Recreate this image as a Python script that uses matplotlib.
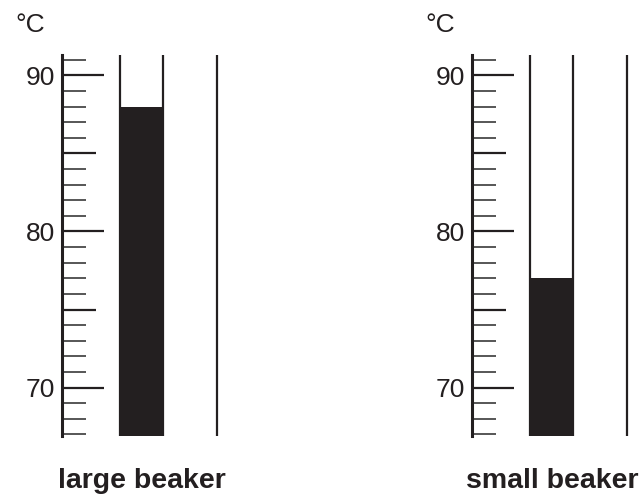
import matplotlib
matplotlib.use("Agg")
import matplotlib.pyplot as plt
import numpy as np

plt.rcParams['font.family'] = ['Liberation Sans', 'DejaVu Sans']

# Data
beakers = ["large beaker", "small beaker"]
temperatures = [88, 77]
major_ticks = [70, 80, 90]
medium_ticks = [75, 85]
minor_ticks = list(range(67, 92))
unit_label = "°C"
y_min, y_max = 66.9, 91.3

W, H = 644, 497
fig = plt.figure(figsize=(W / 100, H / 100), dpi=100)
ink = "#231f20"

panel_left_px = [62, 472]
ax_bottom_px, ax_top_px = 61, 442
ax_w_px = 170

for i, (name, temp) in enumerate(zip(beakers, temperatures)):
    x0 = panel_left_px[i]
    ax = fig.add_axes([x0 / W, ax_bottom_px / H, ax_w_px / W, (ax_top_px - ax_bottom_px) / H])
    ax.set_xlim(0, ax_w_px)
    ax.set_ylim(y_min, y_max)
    for s in ["top", "right", "bottom"]:
        ax.spines[s].set_visible(False)
    ax.spines["left"].set_linewidth(2.2)
    ax.spines["left"].set_color(ink)
    ax.set_xticks([])
    ax.set_yticks(major_ticks)
    ax.set_yticks(minor_ticks, minor=True)
    ax.tick_params(axis="y", which="major", direction="in", length=30, width=1.6,
                   color=ink, labelsize=19, labelcolor=ink, pad=5)
    ax.tick_params(axis="y", which="minor", direction="in", length=17.5, width=1.2, color="#3a3a3a")
    ax.hlines(medium_ticks, 0, 34, color=ink, lw=1.6)
    # tube
    tube_l, tube_r, outer = 58, 101, 155
    ax.bar((tube_l + tube_r) / 2, temp - y_min, width=tube_r - tube_l, bottom=y_min,
           color=ink, edgecolor="none")
    ax.vlines([tube_l, tube_r, outer], y_min, y_max, color=ink, lw=1.6, clip_on=False)
    fig.text((x0 - 47) / W, 1 - 25 / H, unit_label, fontsize=19, color=ink,
             ha="left", va="center")
    fig.text((x0 + 80) / W, 1 - 481 / H, name, fontsize=20.5, fontweight="bold",
             color=ink, ha="center", va="center")

fig.savefig("out.png", dpi=100)
